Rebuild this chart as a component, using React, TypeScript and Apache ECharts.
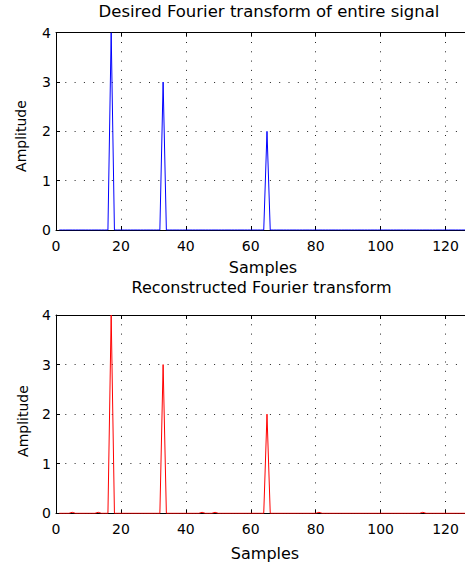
import React, { useEffect, useRef } from "react";
import * as echarts from "echarts";

const sampleCount = 128;
const xMax = 126;

const desiredPeakSamples = [17, 33, 65];
const desiredPeakValues = [4, 3, 2];

const reconPeakSamples = [5, 13, 17, 33, 45, 49, 65, 81, 113];
const reconPeakValues = [0.02, 0.02, 4, 3, 0.02, 0.02, 2, 0.02, 0.02];

const titles = ["Desired Fourier transform of entire signal", "Reconstructed Fourier transform"];

function buildSeries(peaks: number[], values: number[]): number[][] {
  const out: number[][] = [];
  for (let s = 1; s <= sampleCount; s++) {
    const k = peaks.indexOf(s);
    out.push([s, k >= 0 ? values[k] : 0]);
  }
  return out;
}

const FONT = "DejaVu Sans";

export default function App() {
  const ref = useRef<HTMLDivElement>(null);
  useEffect(() => {
    document.body.style.margin = "0";
    const chart = echarts.init(ref.current!, undefined, { renderer: "svg" });
    const grids = [
      { left: 56, top: 32.7, right: 0, height: 197.3 },
      { left: 56, top: 315, right: 0, height: 198.3 },
    ];
    const dotted = { color: "#222", width: 1, type: [1, 8.3] as any };
    const xAxes: any[] = [];
    const yAxes: any[] = [];
    [0, 1].forEach((i) => {
      xAxes.push({
        type: "value",
        gridIndex: i,
        min: 0,
        max: xMax,
        interval: 20,
        position: "bottom",
        axisLine: { show: true, onZero: false, lineStyle: { color: "#000", width: 1 } },
        axisTick: { show: true, inside: true, length: 4, lineStyle: { color: "#000" } },
        axisLabel: {
          show: true,
          margin: 9,
          showMaxLabel: false,
          fontFamily: FONT,
          fontSize: 14,
          color: "#000",
        },
        splitLine: { show: true, lineStyle: dotted },
      });
      xAxes.push({
        type: "value",
        gridIndex: i,
        min: 0,
        max: xMax,
        interval: 20,
        position: "top",
        axisLine: { show: true, onZero: false, lineStyle: { color: "#000", width: 1 } },
        axisTick: { show: true, inside: true, length: 4, lineStyle: { color: "#000" } },
        axisLabel: { show: false },
        splitLine: { show: false },
      });
      yAxes.push({
        type: "value",
        gridIndex: i,
        min: 0,
        max: 4,
        interval: 1,
        axisLine: { show: true, lineStyle: { color: "#000", width: 1 } },
        axisTick: { show: true, inside: true, length: 4, lineStyle: { color: "#000" } },
        axisLabel: {
          show: true,
          margin: 5,
          fontFamily: FONT,
          fontSize: 14,
          color: "#000",
        },
        splitLine: { show: true, lineStyle: dotted },
      });
    });

    const graphics: any[] = [
      { x: 269, y: 11, text: titles[0], size: 16.5, rot: 0 },
      { x: 261.5, y: 287, text: titles[1], size: 16, rot: 0 },
      { x: 263, y: 267.5, text: "Samples", size: 16, rot: 0 },
      { x: 265, y: 553.5, text: "Samples", size: 16, rot: 0 },
      { x: 21, y: 136, text: "Amplitude", size: 14, rot: Math.PI / 2 },
      { x: 22.5, y: 421, text: "Amplitude", size: 14, rot: Math.PI / 2 },
    ].map((g) => ({
      type: "text",
      x: g.x,
      y: g.y,
      rotation: g.rot,
      style: {
        text: g.text,
        fontFamily: FONT,
        fontSize: g.size,
        fill: "#000",
        textAlign: "center",
        textVerticalAlign: "middle",
      },
    }));

    chart.setOption({
      animation: false,
      backgroundColor: "#fff",
      grid: grids,
      xAxis: xAxes,
      yAxis: yAxes,
      graphic: graphics,
      series: [
        {
          type: "line",
          xAxisIndex: 0,
          yAxisIndex: 0,
          data: buildSeries(desiredPeakSamples, desiredPeakValues),
          showSymbol: false,
          lineStyle: { color: "#0000ff", width: 1 },
          itemStyle: { color: "#0000ff" },
          z: 3,
        },
        {
          type: "line",
          xAxisIndex: 2,
          yAxisIndex: 1,
          data: buildSeries(reconPeakSamples, reconPeakValues),
          showSymbol: false,
          lineStyle: { color: "#ff0000", width: 1 },
          itemStyle: { color: "#ff0000" },
          z: 3,
        },
      ],
    });
    return () => chart.dispose();
  }, []);
  return <div ref={ref} style={{ width: 465, height: 569 }} />;
}
